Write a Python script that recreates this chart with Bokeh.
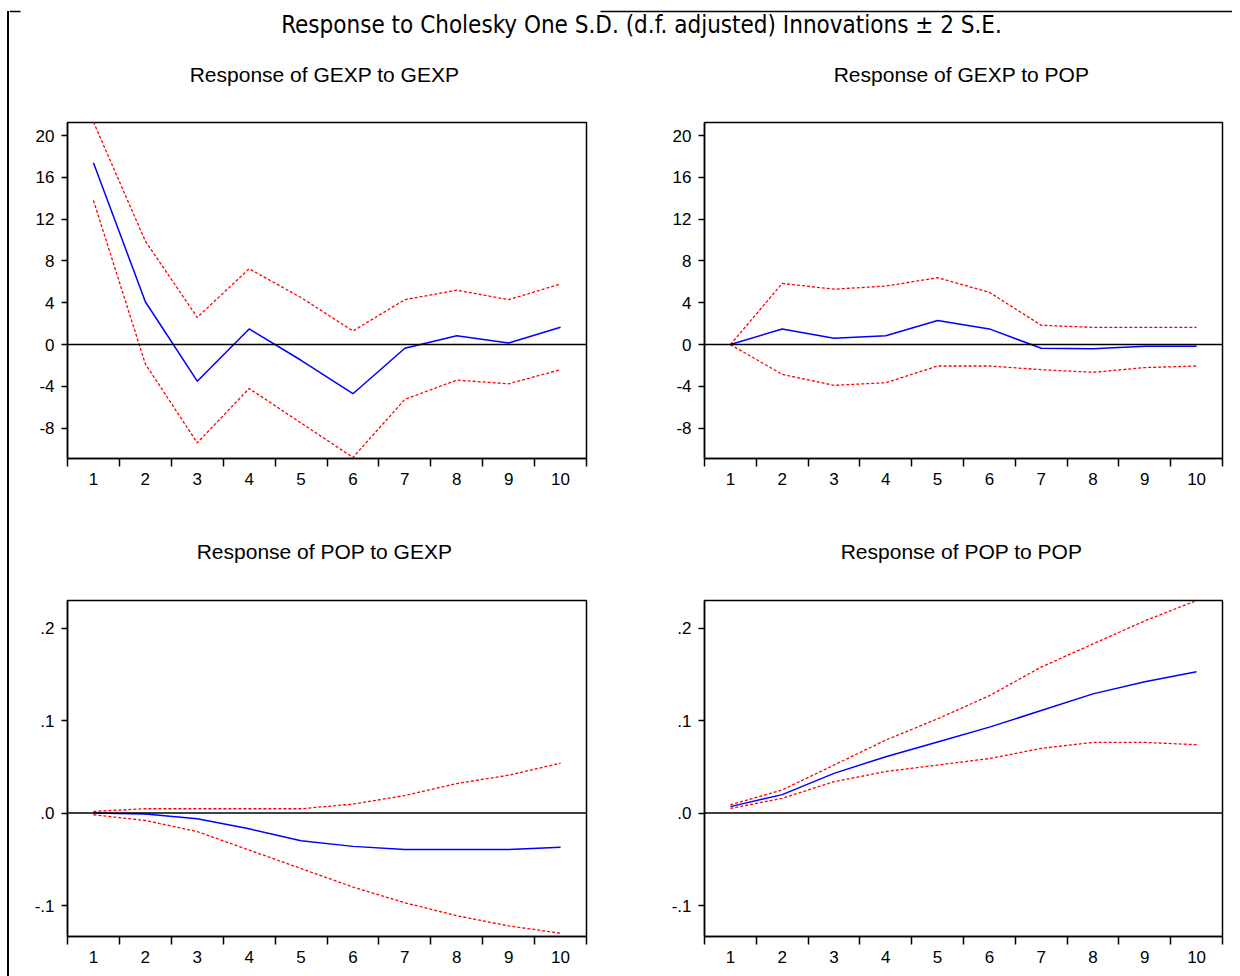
from bokeh.plotting import figure
from bokeh.models import Range1d, FixedTicker, Span, Spacer
from bokeh.layouts import row, column
from bokeh.core.properties import value
from bokeh.embed import file_html
from bokeh.resources import INLINE

# ---------------- data ----------------
periods = [1, 2, 3, 4, 5, 6, 7, 8, 9, 10]
x_labels = ["1", "2", "3", "4", "5", "6", "7", "8", "9", "10"]

main_title = "Response to Cholesky One S.D. (d.f. adjusted) Innovations \u00b1 2 S.E."

title_gexp_gexp = "Response of GEXP to GEXP"
gexp_gexp = [17.4, 4.1, -3.5, 1.5, -1.5, -4.7, -0.35, 0.85, 0.15, 1.65]
gexp_gexp_hi = [21.3, 9.9, 2.6, 7.25, 4.5, 1.3, 4.3, 5.2, 4.3, 5.8]
gexp_gexp_lo = [13.8, -1.85, -9.4, -4.2, -7.5, -10.8, -5.25, -3.4, -3.75, -2.4]

title_gexp_pop = "Response of GEXP to POP"
gexp_pop = [0.0, 1.5, 0.6, 0.85, 2.3, 1.5, -0.35, -0.4, -0.15, -0.15]
gexp_pop_hi = [0.0, 5.85, 5.3, 5.6, 6.4, 5.0, 1.85, 1.65, 1.65, 1.65]
gexp_pop_lo = [0.0, -2.85, -3.9, -3.65, -2.05, -2.05, -2.4, -2.65, -2.2, -2.05]

title_pop_gexp = "Response of POP to GEXP"
pop_gexp = [0.0, -0.001, -0.006, -0.017, -0.030, -0.036, -0.0395, -0.0395, -0.0395, -0.037]
pop_gexp_hi = [0.0018, 0.0047, 0.0047, 0.0047, 0.0047, 0.0097, 0.019, 0.032, 0.041, 0.054]
pop_gexp_lo = [-0.0018, -0.008, -0.020, -0.040, -0.060, -0.080, -0.097, -0.111, -0.122, -0.130]

title_pop_pop = "Response of POP to POP"
pop_pop = [0.007, 0.020, 0.043, 0.061, 0.077, 0.093, 0.111, 0.129, 0.142, 0.153]
pop_pop_hi = [0.009, 0.025, 0.052, 0.079, 0.102, 0.127, 0.158, 0.183, 0.208, 0.230]
pop_pop_lo = [0.005, 0.016, 0.034, 0.045, 0.052, 0.059, 0.070, 0.0765, 0.0765, 0.074]

top_yrange = (-10.9, 21.25)
top_yticks = [-8, -4, 0, 4, 8, 12, 16, 20]
top_ylabels = ["-8", "-4", "0", "4", "8", "12", "16", "20"]

bot_yrange = (-0.1335, 0.230)
bot_yticks = [-0.1, 0.0, 0.1, 0.2]
bot_ylabels = ["-.1", ".0", ".1", ".2"]

# ---------------- style ----------------
FONT = "Liberation Sans"
NARROW = "'Liberation Sans Narrow', 'Arial Narrow', 'DejaVu Sans Condensed', sans-serif"
STRIP_W = 1223


def strip(height):
    s = figure(width=STRIP_W, height=height, x_range=Range1d(0, STRIP_W), y_range=Range1d(0, height),
               toolbar_location=None, output_backend="svg", min_border=0,
               x_axis_location=None, y_axis_location=None)
    s.grid.visible = False
    s.outline_line_color = None
    s.background_fill_color = "white"
    s.border_fill_color = "white"
    return s


def subtitle_strip(height, texts, xs, y):
    s = strip(height)
    s.text(x=xs, y=[y] * len(texts), text=texts, text_font=value(FONT),
           text_font_size="21px", text_align="center", text_baseline="middle",
           text_color="black")
    return s


def panel(mid, lo, hi, yr, yticks, ylabels, width, height, mbl, mbr, mbt, mbb):
    p = figure(width=width, height=height,
               x_range=Range1d(0.5, 10.5), y_range=Range1d(*yr),
               toolbar_location=None, output_backend="svg",
               min_border_left=mbl, min_border_right=mbr,
               min_border_top=mbt, min_border_bottom=mbb)
    p.grid.visible = False
    p.background_fill_color = "white"
    p.border_fill_color = "white"
    p.outline_line_color = "black"
    p.outline_line_width = 1.5
    p.outline_line_alpha = 1.0

    # x axis: labels at integers, ticks between categories
    xa = p.xaxis[0]
    xa.ticker = FixedTicker(ticks=periods, minor_ticks=[v - 0.5 for v in periods] + [10.5])
    xa.major_label_overrides = {v: s for v, s in zip(periods, x_labels)}
    xa.major_tick_line_alpha = 0
    xa.major_tick_in = 0
    xa.major_tick_out = 8
    xa.minor_tick_in = 0
    xa.minor_tick_out = 8
    xa.minor_tick_line_color = "black"
    xa.minor_tick_line_width = 1.5
    xa.axis_line_color = "black"
    xa.axis_line_width = 1.5
    xa.major_label_standoff = 6
    xa.major_label_text_font = FONT
    xa.major_label_text_font_size = "17px"
    xa.major_label_text_color = "black"

    ya = p.yaxis[0]
    ya.ticker = FixedTicker(ticks=yticks, minor_ticks=[])
    ya.major_label_overrides = {v: s for v, s in zip(yticks, ylabels)}
    ya.major_tick_in = 0
    ya.major_tick_out = 6
    ya.major_tick_line_color = "black"
    ya.major_tick_line_width = 1.5
    ya.minor_tick_line_color = None
    ya.axis_line_color = "black"
    ya.axis_line_width = 1.5
    ya.major_label_standoff = 7
    ya.major_label_text_font = FONT
    ya.major_label_text_font_size = "17px"
    ya.major_label_text_color = "black"

    p.line(periods, hi, line_color="#FF0000", line_width=1.3, line_dash="3 2")
    p.line(periods, lo, line_color="#FF0000", line_width=1.3, line_dash="3 2")
    p.line(periods, mid, line_color="#0000FF", line_width=1.5)
    p.add_layout(Span(location=0, dimension="width", line_color="black", line_width=1.5))
    return p


# header with main title and top rule
header = strip(46)
header.text(x=[632], y=[22], text=[main_title], text_font=value(NARROW),
            text_font_size="24px", text_align="center", text_baseline="middle",
            text_color="black")
header.segment(x0=[0, 591], y0=[35, 35], x1=[11, STRIP_W], y1=[35, 35],
               line_color="black", line_width=1.5)

sub_top = subtitle_strip(66, [title_gexp_gexp, title_gexp_pop], [315, 952], 38)
sub_bot = subtitle_strip(70, [title_pop_gexp, title_pop_pop], [315, 952], 39)

p1 = panel(gexp_gexp, gexp_gexp_lo, gexp_gexp_hi, top_yrange, top_yticks, top_ylabels,
           611, 408, 58, 34, 10, 62)
p2 = panel(gexp_pop, gexp_pop_lo, gexp_pop_hi, top_yrange, top_yticks, top_ylabels,
           612, 408, 84, 10, 10, 62)
p3 = panel(pop_gexp, pop_gexp_lo, pop_gexp_hi, bot_yrange, bot_yticks, bot_ylabels,
           611, 386, 58, 34, 10, 40)
p4 = panel(pop_pop, pop_pop_lo, pop_pop_hi, bot_yrange, bot_yticks, bot_ylabels,
           612, 386, 84, 10, 10, 40)

gap = Spacer(width=7, height=10)
border = Spacer(width=2, height=965, margin=(11, 0, 0, 0), styles={"background-color": "black"})

layout = row(gap, border, column(header, sub_top, row(p1, p2), sub_bot, row(p3, p4)))

open("out.html", "w").write(file_html(layout, INLINE))
